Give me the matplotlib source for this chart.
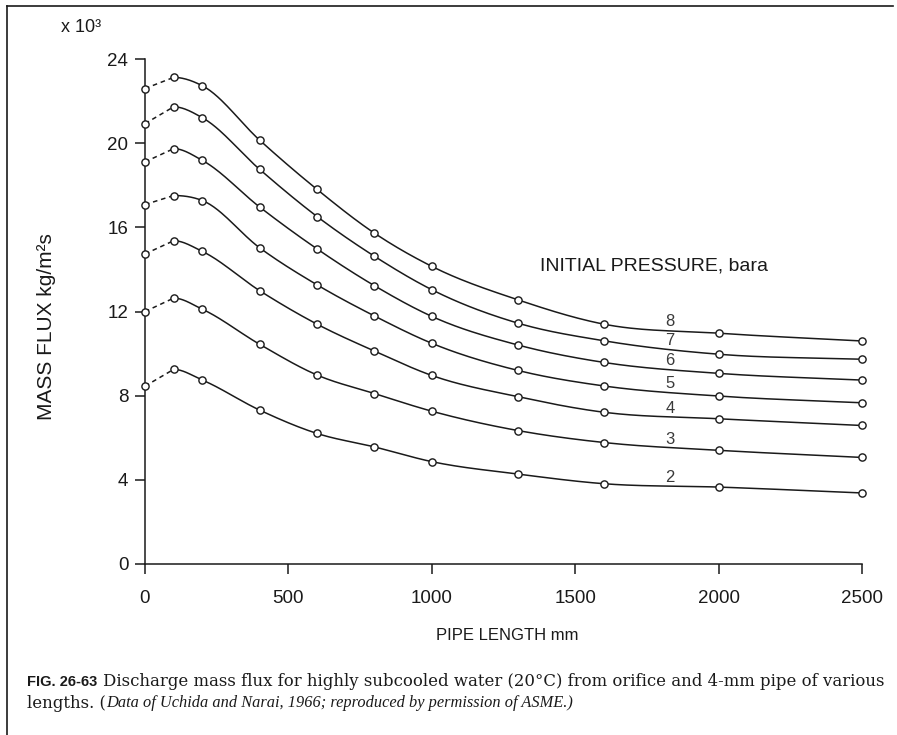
import numpy as np
import matplotlib
matplotlib.use("Agg")
import matplotlib.pyplot as plt
from matplotlib.lines import Line2D

# Pipe lengths (mm) at which the mass flux was measured
pipe_length = [0, 100, 200, 400, 600, 800, 1000, 1300, 1600, 2000, 2500]

# Mass flux (x 10^3 kg/m^2 s) for each initial pressure (bara)
flux_8 = [22.61, 23.14, 22.74, 20.15, 17.81, 15.73, 14.15, 12.56, 11.40, 10.97, 10.60]
flux_7 = [20.94, 21.74, 21.22, 18.76, 16.52, 14.63, 13.04, 11.45, 10.61, 9.97, 9.73]
flux_6 = [19.12, 19.75, 19.19, 16.97, 14.98, 13.23, 11.77, 10.41, 9.58, 9.06, 8.74]
flux_5 = [17.09, 17.52, 17.28, 15.03, 13.27, 11.79, 10.49, 9.20, 8.46, 7.98, 7.66]
flux_4 = [14.74, 15.37, 14.86, 12.99, 11.40, 10.12, 8.96, 7.95, 7.21, 6.90, 6.58]
flux_3 = [12.00, 12.64, 12.11, 10.44, 8.98, 8.10, 7.26, 6.34, 5.77, 5.40, 5.06]
flux_2 = [8.45, 9.25, 8.74, 7.31, 6.20, 5.56, 4.86, 4.27, 3.81, 3.65, 3.37]

pressure_labels = ["8", "7", "6", "5", "4", "3", "2"]
series = [flux_8, flux_7, flux_6, flux_5, flux_4, flux_3, flux_2]

x_ticks = [0, 500, 1000, 1500, 2000, 2500]
y_ticks = [0, 4, 8, 12, 16, 20, 24]

INK = "#1a1a1a"
SANS = ["Liberation Sans", "DejaVu Sans"]
SERIF = ["DejaVu Serif", "Liberation Serif"]
SERIF_IT = ["Liberation Serif", "DejaVu Serif"]
W, H = 897, 735


def hermite_path(xs, ys, start_slope=0.0, steps=30):
    """Smooth cubic Hermite path through the points (drawing only).

    Interior slopes are the weighted three-point estimate; the path leaves
    the first point (the flux maximum) horizontally.
    """
    x = np.asarray(xs, float)
    y = np.asarray(ys, float)
    h = np.diff(x)
    d = np.diff(y) / h
    m = np.empty_like(y)
    m[0] = start_slope
    m[-1] = d[-1]
    for k in range(1, len(x) - 1):
        m[k] = (h[k] * d[k - 1] + h[k - 1] * d[k]) / (h[k - 1] + h[k])
    out_x, out_y = [], []
    t = np.linspace(0, 1, steps, endpoint=False)
    h00 = 2 * t**3 - 3 * t**2 + 1
    h10 = t**3 - 2 * t**2 + t
    h01 = -2 * t**3 + 3 * t**2
    h11 = t**3 - t**2
    for k in range(len(x) - 1):
        out_x.extend(x[k] + t * h[k])
        out_y.extend(h00 * y[k] + h10 * h[k] * m[k] + h01 * y[k + 1]
                     + h11 * h[k] * m[k + 1])
    out_x.append(x[-1])
    out_y.append(y[-1])
    return np.array(out_x), np.array(out_y)


fig = plt.figure(figsize=(W / 100, H / 100), dpi=100)
ax = fig.add_axes([145 / W, 1 - 563.8 / H, 717 / W, 504.5 / H])

for vals, lab in zip(series, pressure_labels):
    # orifice-to-short-pipe part drawn dashed
    ax.plot(pipe_length[:2], vals[:2], color=INK, lw=1.1, ls=(0, (3, 2.5)),
            clip_on=False)
    sx, sy = hermite_path(pipe_length[1:], vals[1:])
    ax.plot(sx, sy, color=INK, lw=1.1, clip_on=False)
    ax.plot(pipe_length, vals, ls="none", marker="o", ms=5.2, mfc="white",
            mec=INK, mew=1.0, clip_on=False, zorder=3)
    # pressure label sitting on its curve
    xl = 1830
    yl = np.interp(xl, pipe_length, vals)
    ax.text(xl, yl + 0.02, lab, fontsize=12, color="#3a3a3a", family=SANS,
            ha="center", va="bottom")

ax.set_xlim(0, 2500)
ax.set_ylim(0, 24)
ax.set_xticks(x_ticks)
ax.set_yticks(y_ticks)
ax.set_xticklabels([str(v) for v in x_ticks], family=SANS, fontsize=13.5)
ax.set_yticklabels([str(v) for v in y_ticks], family=SANS, fontsize=13.5)
for s in ("top", "right"):
    ax.spines[s].set_visible(False)
for s in ("left", "bottom"):
    ax.spines[s].set_color(INK)
    ax.spines[s].set_linewidth(1.1)
ax.tick_params(axis="both", direction="out", length=7, width=1.1,
               color=INK, labelcolor=INK)
ax.tick_params(axis="x", pad=12)
ax.tick_params(axis="y", pad=5)

fig.text(507 / W, 1 - 636 / H, "PIPE LENGTH mm", family=SANS, fontsize=12,
         color=INK, ha="center", va="center")
fig.text(47 / W, 1 - 327 / H, "MASS FLUX kg/m²s", family=SANS,
         fontsize=15, color=INK, ha="center", va="center", rotation=90)

fig.text(61 / W, 1 - 28 / H, "x 10³", family=SANS, fontsize=13,
         color=INK, ha="left", va="center")
fig.text(540 / W, 1 - 266 / H, "INITIAL PRESSURE, bara", family=SANS,
         fontsize=14, color=INK, ha="left", va="center")

# caption; the first line is sized to span the page width
fig.text(27 / W, 1 - 682 / H, "FIG. 26-63", family=SANS, fontsize=10.5,
         weight="bold", color=INK, ha="left", va="center")
line1 = ("Discharge mass flux for highly subcooled water (20°C) from orifice "
         "and 4-mm pipe of various")
t1 = fig.text(103 / W, 1 - 682 / H, line1, family=SERIF, fontsize=10,
              color=INK, ha="left", va="center")
fig.canvas.draw()
cap_size = 10 * (888 - 103) / t1.get_window_extent().width
t1.set_fontsize(cap_size)

t2 = fig.text(27 / W, 1 - 703 / H, "lengths. (", family=SERIF,
              fontsize=cap_size, color=INK, ha="left", va="center")
fig.canvas.draw()
x_it = 27 + t2.get_window_extent().width
fig.text(x_it / W, 1 - 703 / H,
         "Data of Uchida and Narai, 1966; reproduced by permission of ASME.)",
         family=SERIF_IT, fontsize=11.8, style="italic", color=INK,
         ha="left", va="center")

# page frame (top and left edges)
fig.add_artist(Line2D([7 / W, 893 / W], [1 - 6 / H, 1 - 6 / H],
                      transform=fig.transFigure, color=INK, lw=1.2))
fig.add_artist(Line2D([7 / W, 7 / W], [1 - 6 / H, 0],
                      transform=fig.transFigure, color=INK, lw=1.2))

fig.savefig("out.png", dpi=100, facecolor="white")
